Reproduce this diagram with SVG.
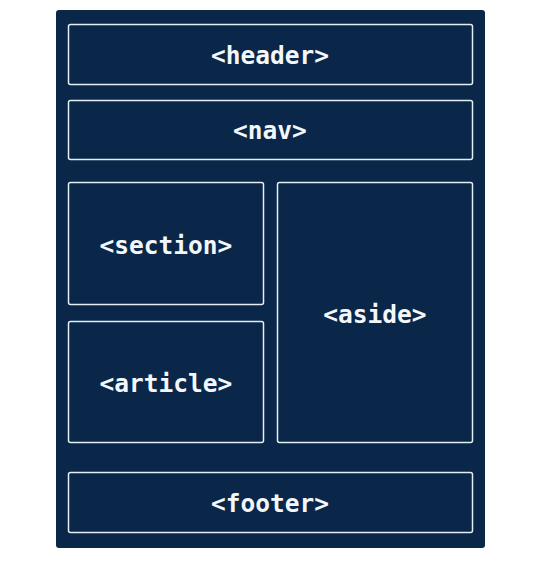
<svg xmlns="http://www.w3.org/2000/svg" width="540" height="568" viewBox="0 0 540 568">
<style>
.box{fill:#0a2649;stroke:#e4eef5;stroke-width:1.5}
.lbl{font-family:"DejaVu Sans Mono","Liberation Mono",monospace;font-weight:bold;font-size:24.5px;fill:#f4f7fa;text-anchor:middle;dominant-baseline:central}
</style>
<rect width="540" height="568" fill="#ffffff"/>
<rect id="page" x="56" y="10" width="429" height="538" rx="3" fill="#0a2649"/>
<g id="header"><rect class="box" x="68.5" y="24.5" width="404" height="60" rx="2"/><text class="lbl" x="270" y="55">&lt;header&gt;</text></g>
<g id="nav"><rect class="box" x="68.5" y="100.5" width="404" height="59" rx="2"/><text class="lbl" x="270" y="130">&lt;nav&gt;</text></g>
<g id="section"><rect class="box" x="68.5" y="182.5" width="195" height="122" rx="2"/><text class="lbl" x="166" y="245">&lt;section&gt;</text></g>
<g id="article"><rect class="box" x="68.5" y="321.5" width="195" height="121" rx="2"/><text class="lbl" x="166" y="383">&lt;article&gt;</text></g>
<g id="aside"><rect class="box" x="277.5" y="182.5" width="195" height="260" rx="2"/><text class="lbl" x="375" y="314">&lt;aside&gt;</text></g>
<g id="footer"><rect class="box" x="68.5" y="472.5" width="404" height="60" rx="2"/><text class="lbl" x="270" y="503">&lt;footer&gt;</text></g>
<g id="connectors"/>
</svg>
